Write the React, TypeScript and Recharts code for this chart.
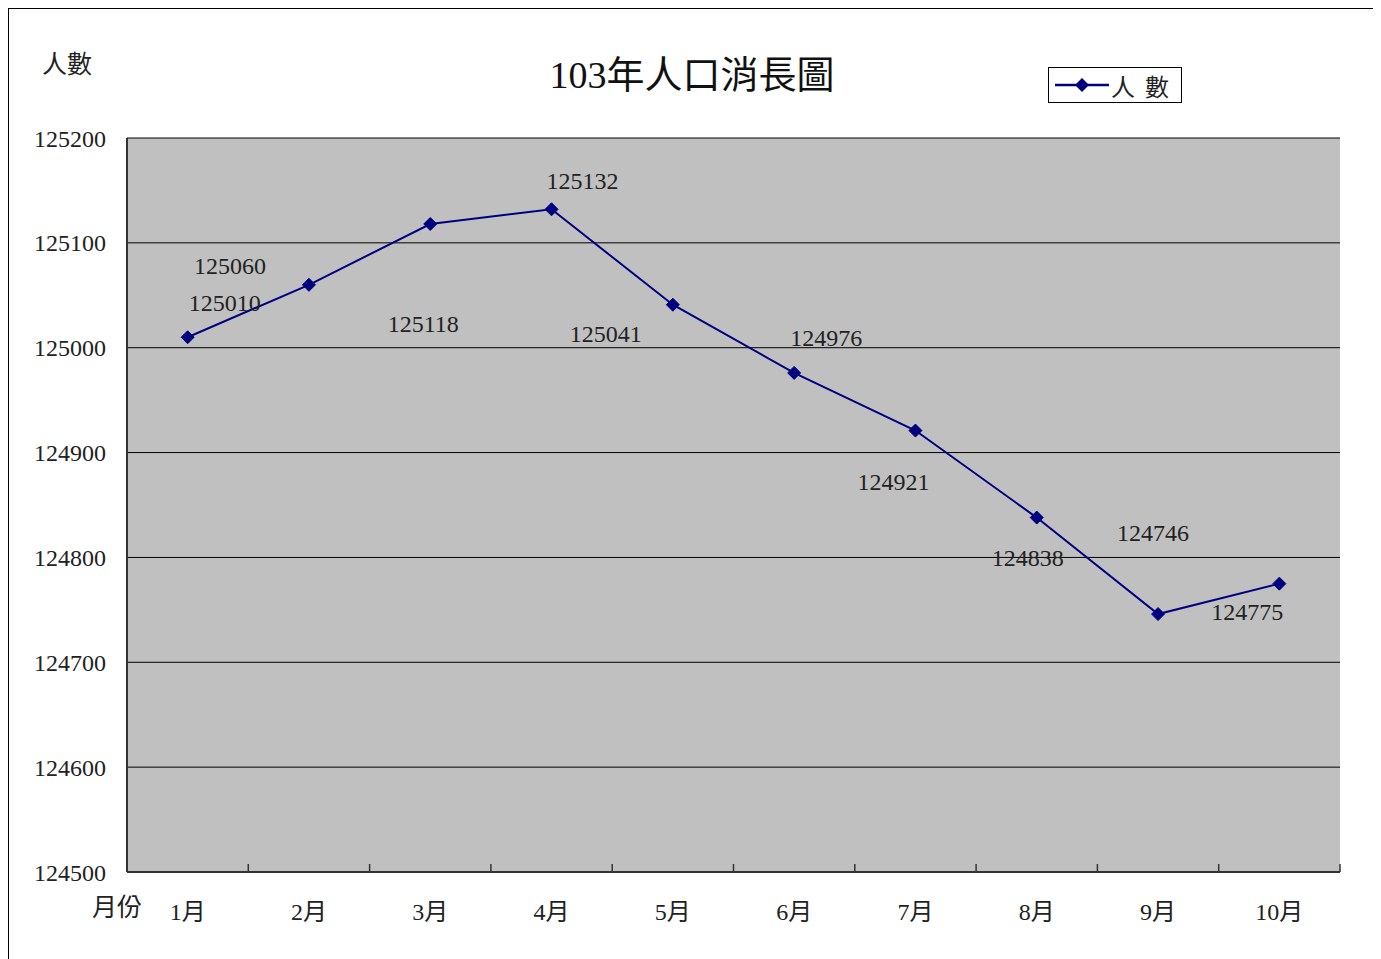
import React from "react";
import {
  LineChart,
  Line,
  XAxis,
  YAxis,
  CartesianGrid,
  Legend,
  LabelList,
} from "recharts";

const months = ["1月", "2月", "3月", "4月", "5月", "6月", "7月", "8月", "9月", "10月"];
const population = [125010, 125060, 125118, 125132, 125041, 124976, 124921, 124838, 124746, 124775];
const yTicks = [124500, 124600, 124700, 124800, 124900, 125000, 125100, 125200];

const data = months.map((m, i) => ({ month: m, people: population[i] }));

// where Excel dropped each value label, relative to its point
const labelShift = [
  [37, -34], [-79, -19], [-7, 100], [31, -28], [-67, 29],
  [32, -35], [-22, 51], [-9, 40], [-5, -81], [-32, 28],
];

const FONT = "'Liberation Serif', 'Noto Sans CJK TC', serif";
const W = 1366;
const H = 955;
const M = { top: 129, right: 35, left: 0, bottom: 52 };
const Y_W = 118;
const BAND = (W - M.right - Y_W) / months.length;
const NAVY = "#000080";

const Diamond = (props: any) => {
  const { cx, cy, index } = props;
  if (cx == null || cy == null) return null;
  const r = 6.5;
  return (
    <polygon
      key={`d-${index}`}
      points={`${cx},${cy - r} ${cx + r},${cy} ${cx},${cy + r} ${cx - r},${cy}`}
      fill={NAVY}
      stroke={NAVY}
    />
  );
};

const MonthTick = (props: any) => {
  const { x, y, payload, index } = props;
  const last = index === months.length - 1;
  return (
    <g>
      {index > 0 && (
        <line x1={x - BAND / 2} x2={x - BAND / 2} y1={y} y2={y - 8} stroke="#333" strokeWidth={1.5} />
      )}
      {last && (
        <line x1={x + BAND / 2} x2={x + BAND / 2} y1={y} y2={y - 8} stroke="#333" strokeWidth={1.5} />
      )}
      <text x={x} y={y + 48} textAnchor="middle" fontSize={24} fill="#222" fontFamily={FONT}>
        {payload.value}
      </text>
    </g>
  );
};

const ValueLabel = (props: any) => {
  const { x, y, value, index } = props;
  const [dx, dy] = labelShift[index] || [0, -20];
  return (
    <text
      x={x + dx}
      y={y + dy}
      textAnchor="middle"
      dominantBaseline="central"
      fontSize={24}
      fill="#222"
      fontFamily={FONT}
    >
      {value}
    </text>
  );
};

const LegendBox = () => (
  <div
    style={{
      border: "1px solid #000",
      background: "#fff",
      width: 134,
      height: 36,
      display: "flex",
      alignItems: "center",
      boxSizing: "border-box",
    }}
  >
    <svg width={62} height={20}>
      <line x1={6} x2={60} y1={10} y2={10} stroke={NAVY} strokeWidth={2.5} />
      <polygon points="33,3 40,10 33,17 26,10" fill={NAVY} />
    </svg>
    <span style={{ fontFamily: FONT, fontSize: 24, color: "#222", letterSpacing: 10 }}>人數</span>
  </div>
);

export default function App() {
  return (
    <div
      style={{
        position: "relative",
        width: W,
        height: H,
        borderTop: "1px solid #000",
        borderLeft: "1px solid #000",
        borderRight: "1px solid #000",
        background: "#fff",
        fontFamily: FONT,
      }}
    >
      <div style={{ position: "absolute", left: 0, width: W, top: 47, textAlign: "center", fontSize: 38, color: "#111", lineHeight: 1 }}>
        103年人口消長圖
      </div>
      <div style={{ position: "absolute", left: 33, top: 43, fontSize: 25, color: "#222", lineHeight: 1 }}>人數</div>
      <div style={{ position: "absolute", left: 83, top: 886, fontSize: 25, color: "#222", lineHeight: 1 }}>月份</div>
      <LineChart width={W} height={H} data={data} margin={M}>
        <CartesianGrid vertical={false} stroke="#000" fill="#c0c0c0" fillOpacity={1} />
        <XAxis
          dataKey="month"
          interval={0}
          height={40}
          padding={{ left: BAND / 2, right: BAND / 2 }}
          tickLine={false}
          tickSize={0}
          tickMargin={0}
          axisLine={{ stroke: "#333", strokeWidth: 2 }}
          tick={<MonthTick />}
        />
        <XAxis xAxisId="top" dataKey="month" orientation="top" height={0} tick={false} tickLine={false} axisLine={{ stroke: "#808080", strokeWidth: 2 }} />
        <YAxis
          width={Y_W}
          domain={[124500, 125200]}
          ticks={yTicks}
          interval={0}
          tickLine={false}
          tickSize={0}
          tickMargin={21}
          axisLine={{ stroke: "#333", strokeWidth: 2 }}
          tick={{ fontSize: 24, fill: "#222", fontFamily: FONT }}
        />
        <YAxis yAxisId="right" orientation="right" width={0} tick={false} tickLine={false} axisLine={{ stroke: "#808080", strokeWidth: 2 }} />
        <Legend
          layout="horizontal"
          verticalAlign="middle"
          align="center"
          content={<LegendBox />}
          wrapperStyle={{ position: "absolute", left: 1039, top: 58, width: 134 }}
        />
        <Line
          dataKey="people"
          name="人數"
          stroke={NAVY}
          strokeWidth={2}
          dot={<Diamond />}
          activeDot={false}
          isAnimationActive={false}
        >
          <LabelList dataKey="people" content={<ValueLabel />} />
        </Line>
      </LineChart>
    </div>
  );
}
